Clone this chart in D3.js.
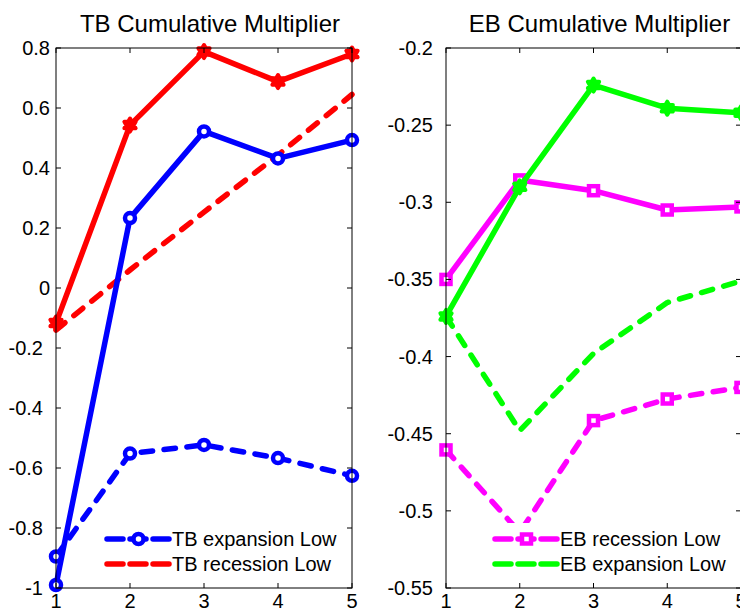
<!DOCTYPE html>
<html>
<head>
<meta charset="utf-8">
<script src="https://cdn.jsdelivr.net/npm/d3@7"></script>
<style>
  body { margin: 0; background: #fff; }
  text { font-family: "Liberation Sans", Arial, sans-serif; fill: #000; }
</style>
</head>
<body>
<svg id="chart" width="740" height="613"></svg>
<script>
  // horizons on the x axis
  const horizons = [1, 2, 3, 4, 5];

  // TB panel
  const tbExpansionHigh = [-0.99, 0.233, 0.522, 0.432, 0.493];
  const tbRecessionHigh = [-0.117, 0.543, 0.788, 0.688, 0.78];
  const tbExpansionLow = [-0.895, -0.552, -0.523, -0.567, -0.626];
  const tbRecessionLow = [-0.14, 0.06, 0.253, 0.443, 0.645];
  const tbTicks = [-1, -0.8, -0.6, -0.4, -0.2, 0, 0.2, 0.4, 0.6, 0.8];

  // EB panel
  const ebRecessionHigh = [-0.35, -0.2855, -0.2925, -0.305, -0.303];
  const ebExpansionHigh = [-0.374, -0.29, -0.224, -0.239, -0.242];
  const ebRecessionLow = [-0.4605, -0.514, -0.4415, -0.4275, -0.42];
  const ebExpansionLow = [-0.374, -0.448, -0.398, -0.365, -0.351];
  const ebTicks = [-0.55, -0.5, -0.45, -0.4, -0.35, -0.3, -0.25, -0.2];

  const svg = d3.select("#chart");
  const plotTop = 48, plotBottom = 588;
  const tickLen = 5;
  const lineW = 5.5;

  // 6 pointed star, close to matlab's 'h' marker
  function hexagram(R) {
    const r = R / Math.sqrt(3);
    const pts = d3.range(12).map(i => {
      const a = -Math.PI / 2 + i * Math.PI / 6;
      const rad = i % 2 === 0 ? R : r;
      return [rad * Math.cos(a), rad * Math.sin(a)];
    });
    return "M" + pts.join("L") + "Z";
  }

  function drawMarker(g, type, color, x, y) {
    if (type === "circle") {
      g.append("circle").attr("cx", x).attr("cy", y).attr("r", 5)
        .attr("fill", "#fff").attr("stroke", color).attr("stroke-width", 4.5);
    } else if (type === "square") {
      g.append("rect").attr("x", x - 4.5).attr("y", y - 4.5)
        .attr("width", 9).attr("height", 9)
        .attr("fill", "#fff").attr("stroke", color).attr("stroke-width", 4.5);
    } else if (type === "hexagram") {
      g.append("path").attr("d", hexagram(6.5))
        .attr("transform", `translate(${x},${y})`)
        .attr("fill", color).attr("stroke", color)
        .attr("stroke-width", 4).attr("stroke-linejoin", "round");
    }
  }

  function drawPanel(opts) {
    const x = d3.scaleLinear().domain([1, 5]).range([opts.left, opts.right]);
    const y = d3.scaleLinear().domain(opts.domain).range([plotBottom, plotTop]);
    const g = svg.append("g");

    // series, dashed ones first
    opts.series.forEach(s => {
      const line = d3.line().x((d, i) => x(horizons[i])).y(d => y(d));
      g.append("path").datum(s.values)
        .attr("d", line)
        .attr("fill", "none")
        .attr("stroke", s.color)
        .attr("stroke-width", lineW)
        .attr("stroke-linecap", "round")
        .attr("stroke-linejoin", "round")
        .attr("stroke-dasharray", s.dashed ? "11.5,11.5" : null);
      if (s.marker) {
        s.values.forEach((v, i) => drawMarker(g, s.marker, s.color, x(horizons[i]), y(v)));
      }
    });

    // box + inward ticks on all sides
    const frame = svg.append("g");
    frame.append("rect")
      .attr("x", opts.left).attr("y", plotTop)
      .attr("width", opts.right - opts.left).attr("height", plotBottom - plotTop)
      .attr("fill", "none").attr("stroke", "#000").attr("stroke-width", 1);

    horizons.forEach(h => {
      frame.append("line").attr("x1", x(h)).attr("x2", x(h))
        .attr("y1", plotBottom).attr("y2", plotBottom - tickLen).attr("stroke", "#000");
      frame.append("line").attr("x1", x(h)).attr("x2", x(h))
        .attr("y1", plotTop).attr("y2", plotTop + tickLen).attr("stroke", "#000");
      frame.append("text").attr("x", x(h)).attr("y", 608)
        .attr("text-anchor", "middle").attr("font-size", 20).text(h);
    });

    opts.ticks.forEach(t => {
      frame.append("line").attr("x1", opts.left).attr("x2", opts.left + tickLen)
        .attr("y1", y(t)).attr("y2", y(t)).attr("stroke", "#000");
      frame.append("line").attr("x1", opts.right).attr("x2", opts.right - tickLen)
        .attr("y1", y(t)).attr("y2", y(t)).attr("stroke", "#000");
      frame.append("text")
        .attr("x", opts.left - 6 - (t < 0 ? 7 : 0))
        .attr("y", y(t)).attr("dy", "0.35em")
        .attr("text-anchor", "end").attr("font-size", 20)
        .text(String(t));
    });

    svg.append("text")
      .attr("x", (opts.left + opts.right) / 2 + 6).attr("y", 32)
      .attr("text-anchor", "middle").attr("font-size", 24)
      .text(opts.title);

    // legend with white background (hides what is under it)
    const lg = svg.append("g");
    lg.append("rect").attr("x", opts.legendX - 7).attr("y", 523)
      .attr("width", 240).attr("height", 57).attr("fill", "#fff");
    opts.legend.forEach((s, i) => {
      const ly = 539 + i * 25;
      lg.append("line")
        .attr("x1", opts.legendX).attr("x2", opts.legendX + 63)
        .attr("y1", ly).attr("y2", ly)
        .attr("stroke", s.color).attr("stroke-width", lineW)
        .attr("stroke-linecap", "round")
        .attr("stroke-dasharray", "16,7");
      if (s.marker) drawMarker(lg, s.marker, s.color, opts.legendX + 31.5, ly);
      lg.append("text").attr("x", opts.legendX + 65).attr("y", ly)
        .attr("dy", "0.35em").attr("font-size", 20).text(s.name);
    });
  }

  const tbSeries = [
    { name: "TB expansion Low", values: tbExpansionLow, color: "#0000ff", dashed: true, marker: "circle" },
    { name: "TB recession Low", values: tbRecessionLow, color: "#ff0000", dashed: true },
    { values: tbExpansionHigh, color: "#0000ff", marker: "circle" },
    { values: tbRecessionHigh, color: "#ff0000", marker: "hexagram" }
  ];

  const ebSeries = [
    { name: "EB recession Low", values: ebRecessionLow, color: "#ff00ff", dashed: true, marker: "square" },
    { name: "EB expansion Low", values: ebExpansionLow, color: "#00ff00", dashed: true },
    { values: ebRecessionHigh, color: "#ff00ff", marker: "square" },
    { values: ebExpansionHigh, color: "#00ff00", marker: "hexagram" }
  ];

  drawPanel({
    left: 56, right: 352, domain: [-1, 0.8], ticks: tbTicks,
    title: "TB Cumulative Multiplier", series: tbSeries,
    legend: tbSeries.slice(0, 2), legendX: 107
  });

  drawPanel({
    left: 446, right: 741, domain: [-0.55, -0.2], ticks: ebTicks,
    title: "EB Cumulative Multiplier", series: ebSeries,
    legend: ebSeries.slice(0, 2), legendX: 495
  });
</script>
</body>
</html>
